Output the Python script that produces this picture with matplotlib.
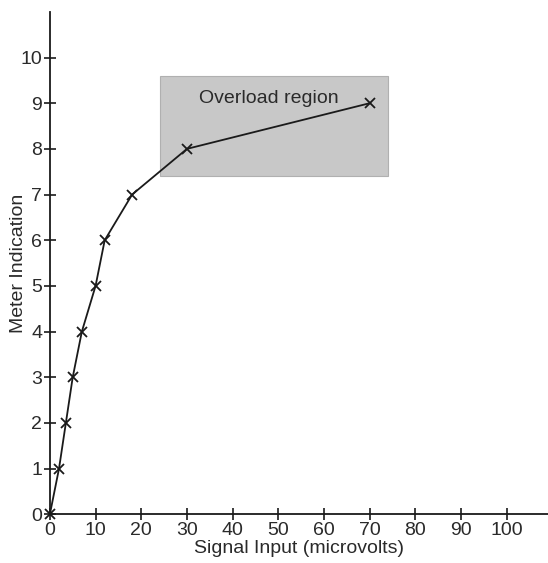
import matplotlib
matplotlib.use("Agg")
from matplotlib import pyplot as plt
from matplotlib.patches import Rectangle

# readings taken off the meter
signal_uv = [0, 2, 3.5, 5, 7, 10, 12, 18, 30, 70]
meter = [0, 1, 2, 3, 4, 5, 6, 7, 8, 9]

x_ticks = [0, 10, 20, 30, 40, 50, 60, 70, 80, 90, 100]
y_ticks = [0, 1, 2, 3, 4, 5, 6, 7, 8, 9, 10]

# overload box (x0, y0, width, height) in data units
overload_box = (24, 7.4, 50, 2.2)
overload_label = "Overload region"

plt.rcParams["font.family"] = ["Liberation Sans", "DejaVu Sans"]

fig = plt.figure(figsize=(5.48, 5.63), dpi=100)
ax = fig.add_axes([0.091, 0.0865, 0.909, 0.8925])

x0, y0, w, h = overload_box
ax.add_patch(Rectangle((x0, y0), w, h, facecolor="#c8c8c8", edgecolor="#b0b0b0",
                       linewidth=0.8, zorder=1))
ax.text(x0 + w * 0.48, y0 + h * 0.77, overload_label, ha="center", va="center",
        fontsize=14, color="#2a2a2a", zorder=2)

ax.plot(signal_uv, meter, color="#1a1a1a", linewidth=1.3, marker="x",
        markersize=7, markeredgewidth=1.3, zorder=3, clip_on=False)

ax.set_xlim(0, 109)
ax.set_ylim(0, 11)
ax.set_xticks(x_ticks)
ax.set_yticks(y_ticks)

for side in ("top", "right"):
    ax.spines[side].set_visible(False)
for side in ("left", "bottom"):
    ax.spines[side].set_linewidth(1.3)
    ax.spines[side].set_color("#1a1a1a")

ax.tick_params(direction="inout", length=9, width=1.2, colors="#1a1a1a",
               labelcolor="#2a2a2a", labelsize=14, pad=1)
ax.set_xlabel("Signal Input (microvolts)", fontsize=14, labelpad=1, color="#2a2a2a")
ax.set_ylabel("Meter Indication", fontsize=14, labelpad=-5, color="#2a2a2a")

fig.savefig("out.png", dpi=100)
